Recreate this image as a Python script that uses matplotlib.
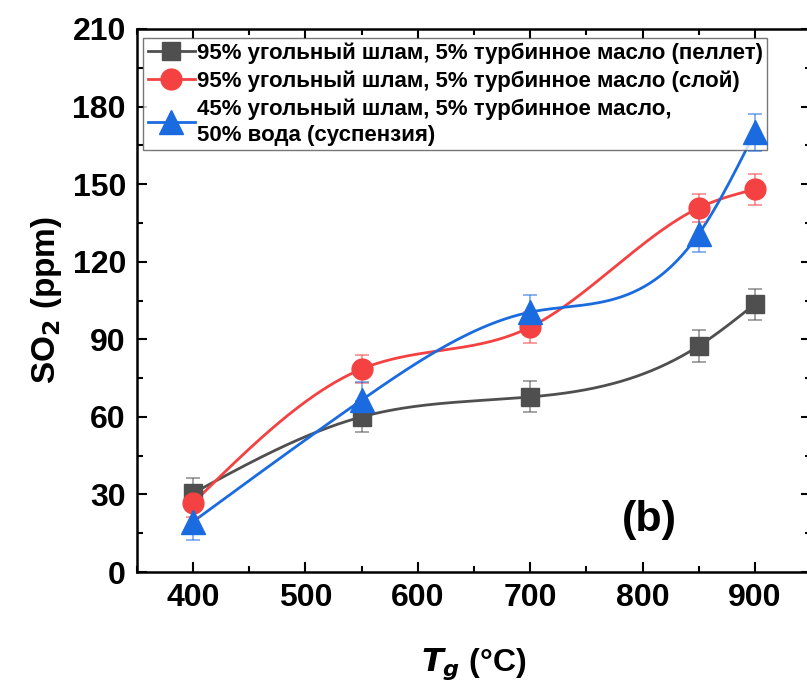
import numpy as np
import matplotlib.pyplot as plt

plt.rcParams['font.family'] = ['Liberation Sans', 'DejaVu Sans']
plt.rcParams['font.weight'] = 'bold'

T_G = [400, 550, 700, 850, 900]

PELLET = [30.5, 60.0, 67.7, 87.4, 103.6]
PELLET_ERR = [6.0, 6.0, 6.0, 6.0, 6.0]

LAYER = [26.7, 78.5, 94.7, 140.8, 148.0]
LAYER_ERR = [5.5, 5.5, 6.0, 5.5, 6.0]

SLURRY = [19.5, 66.5, 100.5, 130.7, 170.0]
SLURRY_ERR = [7.0, 7.0, 6.5, 7.0, 7.0]

LABELS = [
    "95% угольный шлам, 5% турбинное масло (пеллет)",
    "95% угольный шлам, 5% турбинное масло (слой)",
    "45% угольный шлам, 5% турбинное масло,\n50% вода (суспензия)",
]
COLORS = ["#4f4f4f", "#f44141", "#1a6be0"]
MARKERS = ["s", "o", "^"]
MSIZES = [13, 15, 17]


def natural_spline(x, y, n=300):
    """Natural cubic spline through the points (no scipy here)."""
    x = np.asarray(x, float)
    y = np.asarray(y, float)
    k = len(x)
    h = np.diff(x)
    A = np.zeros((k, k))
    b = np.zeros(k)
    A[0, 0] = A[-1, -1] = 1.0
    for i in range(1, k - 1):
        A[i, i - 1] = h[i - 1]
        A[i, i] = 2 * (h[i - 1] + h[i])
        A[i, i + 1] = h[i]
        b[i] = 3 * ((y[i + 1] - y[i]) / h[i] - (y[i] - y[i - 1]) / h[i - 1])
    c = np.linalg.solve(A, b)
    xs = np.linspace(x[0], x[-1], n)
    idx = np.clip(np.searchsorted(x, xs) - 1, 0, k - 2)
    dx = xs - x[idx]
    bi = (y[idx + 1] - y[idx]) / h[idx] - h[idx] * (2 * c[idx] + c[idx + 1]) / 3
    di = (c[idx + 1] - c[idx]) / (3 * h[idx])
    ys = y[idx] + bi * dx + c[idx] * dx ** 2 + di * dx ** 3
    return xs, ys


fig = plt.figure(figsize=(8.07, 6.87), dpi=100)
ax = fig.add_axes([137 / 807, 115 / 687, 674 / 807, 543 / 687])

series = [(PELLET, PELLET_ERR), (LAYER, LAYER_ERR), (SLURRY, SLURRY_ERR)]
handles = []
for (vals, errs), col, mk, ms, lab in zip(series, COLORS, MARKERS, MSIZES, LABELS):
    xs, ys = natural_spline(T_G, vals)
    ax.plot(xs, ys, color=col, lw=2, zorder=2)
    ax.errorbar(T_G, vals, yerr=errs, fmt="none", ecolor=col, alpha=0.6,
                elinewidth=1.2, capsize=5, capthick=1.2, zorder=6)
    ax.plot(T_G, vals, ls="none", marker=mk, ms=ms, color=col, zorder=7)
    h, = ax.plot([], [], color=col, lw=2, marker=mk, ms=ms)
    handles.append(h)

ax.set_xlim(350, 950)
ax.set_ylim(0, 210)
ax.set_xticks([400, 500, 600, 700, 800, 900])
ax.set_xticks(np.arange(350, 951, 50), minor=True)
ax.set_yticks(np.arange(0, 211, 30))
ax.set_yticks(np.arange(0, 211, 15), minor=True)
ax.tick_params(which="both", direction="in", top=True, right=True, width=1.5)
ax.tick_params(which="major", length=7, labelsize=23, pad=8)
ax.tick_params(which="minor", length=4)
for sp in ax.spines.values():
    sp.set_linewidth(1.8)
for lbl in ax.get_xticklabels() + ax.get_yticklabels():
    lbl.set_fontweight("bold")

ax.set_ylabel("SO$_2$ (ppm)", fontsize=24, fontweight="bold", labelpad=6)
ax.set_xlabel(r"$\boldsymbol{T_g}$ (°C)", fontsize=23, fontweight="bold", labelpad=24)

leg = ax.legend(handles, LABELS, loc="upper left", bbox_to_anchor=(0.003, 0.992),
                fontsize=16, frameon=True, fancybox=False, edgecolor="#555555",
                handlelength=2.1, handletextpad=0.1, borderpad=0.2,
                labelspacing=0.3, borderaxespad=0.2)
leg.get_frame().set_linewidth(1.0)
leg.set_zorder(5)
for t in leg.get_texts():
    t.set_fontweight("bold")
    t.set_linespacing(1.3)

ax.text(782, 16, "(b)", fontsize=31, fontweight="bold")

fig.savefig("out.png", dpi=100)
